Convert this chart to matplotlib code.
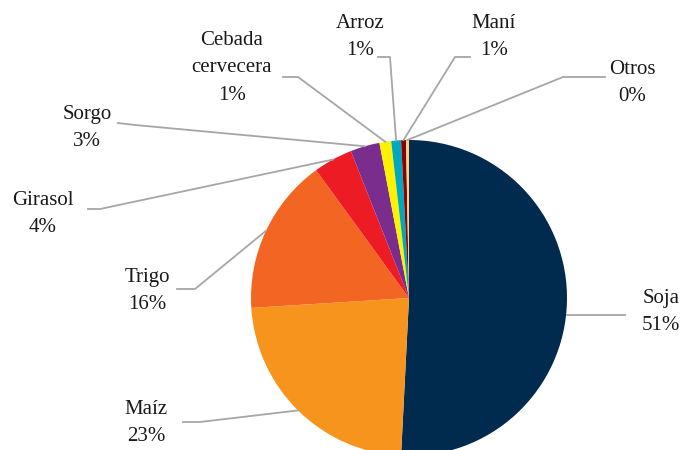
import matplotlib.pyplot as plt
import numpy as np

crops = ['Soja', 'Maíz', 'Trigo', 'Girasol', 'Sorgo', 'Cebada\ncervecera', 'Arroz', 'Maní', 'Otros']
shares = [50.8, 23.2, 16.0, 4.0, 3.0, 1.2, 1.0, 0.5, 0.3]
pct_labels = ['51%', '23%', '16%', '4%', '3%', '1%', '1%', '1%', '0%']
colors = ['#002B4F', '#F7941D', '#F26522', '#ED1C24', '#7B2D8E',
          '#FFF200', '#00A9C0', '#8B0000', '#FFD37F']

W, H = 685, 450
CX, CY, R = 409, 298, 158


def px(x, y):
    # pixel position -> data coords (pie of radius 1 at origin)
    return (x - CX) / R, (CY - y) / R


# label centre and the end of the horizontal leader piece (pixels)
label_pos = [(661, 312), (146, 423), (147, 291), (43, 214), (87, 128),
             (232, 68), (360, 37), (494, 37), (632, 83)]
leader_tail = [(625, 315), (183, 422), (177, 289), (88, 209), (118, 123),
               (283, 77), (378, 57), (470, 57), (605, 77)]
leader_elbow = [(600, 315), (200, 422), (195, 289), (100, 209), (135, 125),
                (298, 77), (390, 57), (455, 57), (563, 77)]

plt.rcParams['font.family'] = ['Liberation Serif', 'DejaVu Serif']

fig = plt.figure(figsize=(W / 100, H / 100), dpi=100)
ax = fig.add_axes([0, 0, 1, 1])
wedges, _ = ax.pie(shares, colors=colors, startangle=90, counterclock=False,
                   radius=1, center=(0, 0), wedgeprops=dict(linewidth=0))
ax.set_xlim(px(0, 0)[0], px(W, 0)[0])
ax.set_ylim(px(0, H)[1], px(0, 0)[1])
ax.set_aspect('equal')
ax.axis('off')

for i, w in enumerate(wedges):
    mid = np.deg2rad((w.theta1 + w.theta2) / 2)
    ex, ey = np.cos(mid), np.sin(mid)
    tx, ty = px(*leader_tail[i])
    bx, by = px(*leader_elbow[i])
    if i == 0:
        ax.plot([tx, ex], [ty, ty], color='#A6A6A6', lw=1.3)
    else:
        ax.plot([tx, bx, ex], [ty, by, ey], color='#A6A6A6', lw=1.3)
    lx, ly = px(*label_pos[i])
    ax.text(lx, ly, f'{crops[i]}\n{pct_labels[i]}', ha='center', va='center',
            fontsize=15, color='#1a1a1a', linespacing=1.6)

fig.savefig('out.png', dpi=100)
